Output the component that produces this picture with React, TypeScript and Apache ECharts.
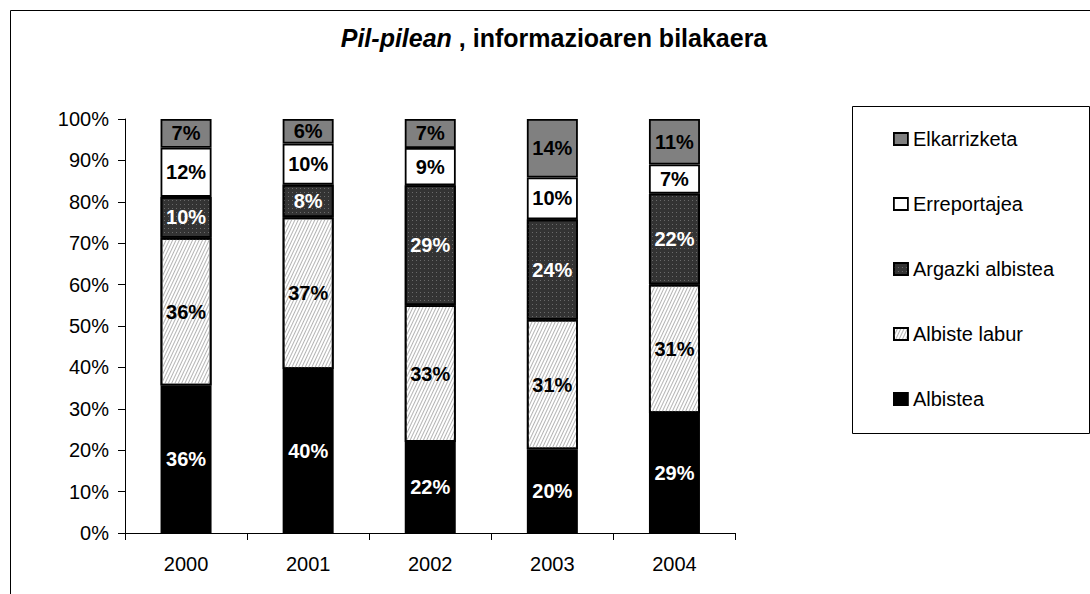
import React, { useEffect, useRef } from "react";
import * as echarts from "echarts";

const years = ["2000", "2001", "2002", "2003", "2004"];
const albistea = [36, 40, 22, 20, 29];
const albisteLabur = [36, 37, 33, 31, 31];
const argazkiAlbistea = [10, 8, 29, 24, 22];
const erreportajea = [12, 10, 9, 10, 7];
const elkarrizketa = [7, 6, 7, 14, 11];
const yTicks = [0, 10, 20, 30, 40, 50, 60, 70, 80, 90, 100];

const FONT = "Arial, 'Liberation Sans', sans-serif";

export default function App() {
  const ref = useRef<HTMLDivElement>(null);
  useEffect(() => {
    if (!ref.current) return;
    const chart = echarts.init(ref.current, undefined, { renderer: "svg" });
    const all = [albistea, albisteLabur, argazkiAlbistea, erreportajea, elkarrizketa];
    const totals = years.map((_, i) => all.reduce((s, a) => s + a[i], 0));
    const norm = (arr: number[]) => arr.map((v, i) => (v / totals[i]) * 100);

    const defs = [
      {
        name: "Albistea",
        raw: albistea,
        style: { color: "#000000" },
        labelColor: "#ffffff",
      },
      {
        name: "Albiste labur",
        raw: albisteLabur,
        style: {
          color: "#ffffff",
          decal: {
            symbol: "rect",
            symbolSize: 1,
            dashArrayX: [1, 0],
            dashArrayY: [1, 2],
            rotation: -Math.PI * 0.36,
            color: "#b4b4b4",
          },
        },
        labelColor: "#000000",
      },
      {
        name: "Argazki albistea",
        raw: argazkiAlbistea,
        style: {
          color: "#333333",
          decal: {
            symbol: "rect",
            symbolSize: 1,
            dashArrayX: [1, 3],
            dashArrayY: [1, 3],
            rotation: 0,
            color: "#6a6a6a",
          },
        },
        labelColor: "#ffffff",
      },
      {
        name: "Erreportajea",
        raw: erreportajea,
        style: { color: "#ffffff" },
        labelColor: "#000000",
      },
      {
        name: "Elkarrizketa",
        raw: elkarrizketa,
        style: { color: "#808080" },
        labelColor: "#000000",
      },
    ];

    const series = defs.map((d) => ({
      name: d.name,
      type: "bar",
      stack: "total",
      barWidth: 51,
      data: norm(d.raw),
      itemStyle: { ...d.style, borderColor: "#000000", borderWidth: 1.8 },
      label: {
        show: true,
        position: "inside",
        formatter: (p: any) => d.raw[p.dataIndex] + "%",
        color: d.labelColor,
        fontFamily: FONT,
        fontWeight: "bold",
        fontSize: 20,
      },
    }));

    chart.setOption({
      animation: false,
      backgroundColor: "#ffffff",
      title: {
        text: "{i|Pil-pilean} , informazioaren bilakaera",
        left: 549,
        top: 20,
        textAlign: "center",
        textStyle: {
          fontFamily: FONT,
          fontWeight: "bold",
          fontSize: 25,
          color: "#000",
          rich: {
            i: {
              fontFamily: FONT,
              fontWeight: "bold",
              fontStyle: "italic",
              fontSize: 25,
              color: "#000",
            },
          },
        },
      },
      legend: {
        orient: "vertical",
        left: 893,
        top: 129,
        padding: 0,
        icon: "rect",
        itemWidth: 14,
        itemHeight: 12,
        itemGap: 45,
        data: ["Elkarrizketa", "Erreportajea", "Argazki albistea", "Albiste labur", "Albistea"],
        textStyle: { fontFamily: FONT, fontSize: 20, color: "#000" },
        itemStyle: { borderColor: "#000", borderWidth: 1.8 },
        selectedMode: false,
      },
      grid: { left: 125, right: 354.5, top: 119, bottom: 61 },
      xAxis: {
        type: "category",
        data: years,
        axisLine: { lineStyle: { color: "#000", width: 1 } },
        axisTick: { show: true, length: 7, lineStyle: { color: "#000" } },
        axisLabel: { fontFamily: FONT, fontSize: 20, color: "#000", margin: 21 },
      },
      yAxis: {
        type: "value",
        min: yTicks[0],
        max: yTicks[yTicks.length - 1],
        interval: 10,
        axisLine: { show: true, lineStyle: { color: "#000", width: 1 } },
        axisTick: { show: true, length: 7, lineStyle: { color: "#000" } },
        splitLine: { show: false },
        axisLabel: {
          fontFamily: FONT,
          fontSize: 20,
          color: "#000",
          margin: 16,
          formatter: (v: number) => v + "%",
        },
      },
      graphic: [
        {
          type: "rect",
          shape: { x: 10.5, y: 10.5, width: 1200, height: 700 },
          style: { fill: "none", stroke: "#000", lineWidth: 1 },
          silent: true,
          z: -1,
        },
        {
          type: "rect",
          shape: { x: 852.5, y: 106.5, width: 237, height: 327 },
          style: { fill: "none", stroke: "#000", lineWidth: 1 },
          silent: true,
          z: -1,
        },
      ],
      series,
    });
    return () => chart.dispose();
  }, []);
  return (
    <div
      ref={ref}
      style={{ position: "fixed", left: 0, top: 0, width: 1090, height: 594 }}
    />
  );
}
